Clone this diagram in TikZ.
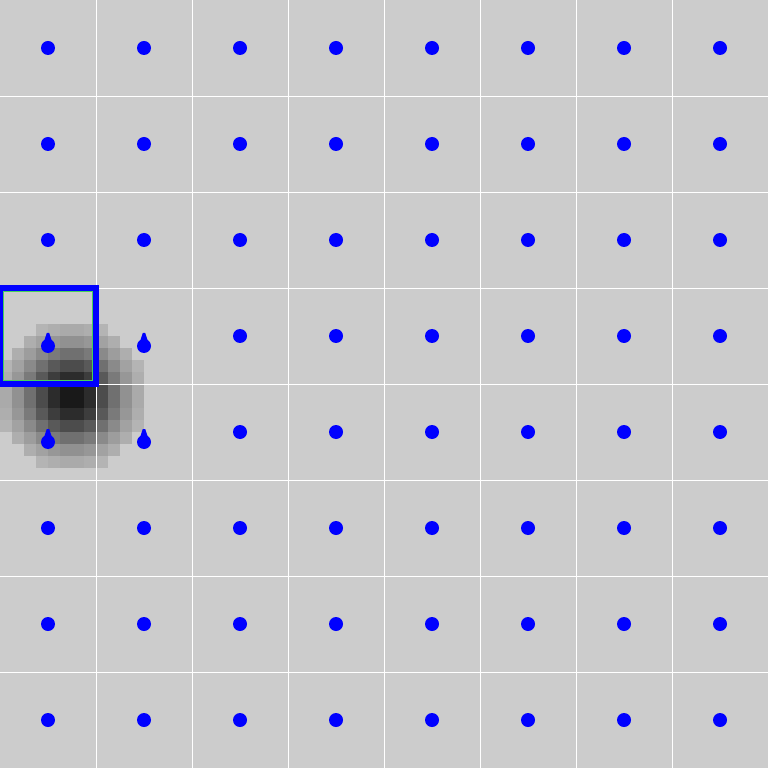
\documentclass[tikz,border=0pt]{standalone}
\usepackage{tikz}
\usetikzlibrary{positioning}
\definecolor{cellgray}{RGB}{204,204,204}
\definecolor{dotblue}{RGB}{0,0,255}
\definecolor{rimgreen}{RGB}{70,210,90}

\begin{document}
\begin{tikzpicture}[
    x=0.3pt, y=-0.3pt,
    dot/.style={circle, fill=dotblue, inner sep=0pt, minimum size=4.2pt},
    gridline/.style={draw=white, line width=0.25pt},
    window/.style={draw=dotblue, line width=1.8pt}
]
\useasboundingbox (0,0) rectangle (768,768);
\fill[cellgray] (0,0) rectangle (768,768);

% blurred blob, 12px pixels round (72,396)
\foreach \i in {0,...,11} {
  \foreach \j in {0,...,11} {
    \pgfmathsetmacro\px{12*\i+6}
    \pgfmathsetmacro\py{330+12*\j}
    \pgfmathsetmacro\rr{(\px-72)^2+(\py-396)^2}
    \pgfmathsetmacro\a{90*exp(-\rr/2600)}
    \ifdim\rr pt<5600pt
      \fill[black!\a!cellgray] (12*\i,324+12*\j) rectangle ++(12.4,12.4);
    \fi
  }
}

% grid
\foreach \k in {1,...,7} {
  \draw[gridline] (96*\k,0) -- (96*\k,768);
  \draw[gridline] (0,96*\k) -- (768,96*\k);
}

% window
\draw[window] (0,288) rectangle (96,384);
\draw[rimgreen, line width=0.3pt] (3.2,291.2) rectangle (92.8,380.8);

% sample points
\foreach \i in {0,...,7} {
  \foreach \j in {0,...,7} {
    \pgfmathtruncatemacro\moved{and(\i<2, and(\j>2, \j<5))}
    \node[dot] (d-\i-\j) at (96*\i+48, 96*\j+48+10*\moved) {};
    \ifnum\moved=1
      \fill[dotblue] (96*\i+44.5,96*\j+52) -- (96*\i+46.8,96*\j+45)
        -- (96*\i+49.2,96*\j+45) -- (96*\i+51.5,96*\j+52) -- cycle;
    \fi
  }
}
\end{tikzpicture}
\end{document}
